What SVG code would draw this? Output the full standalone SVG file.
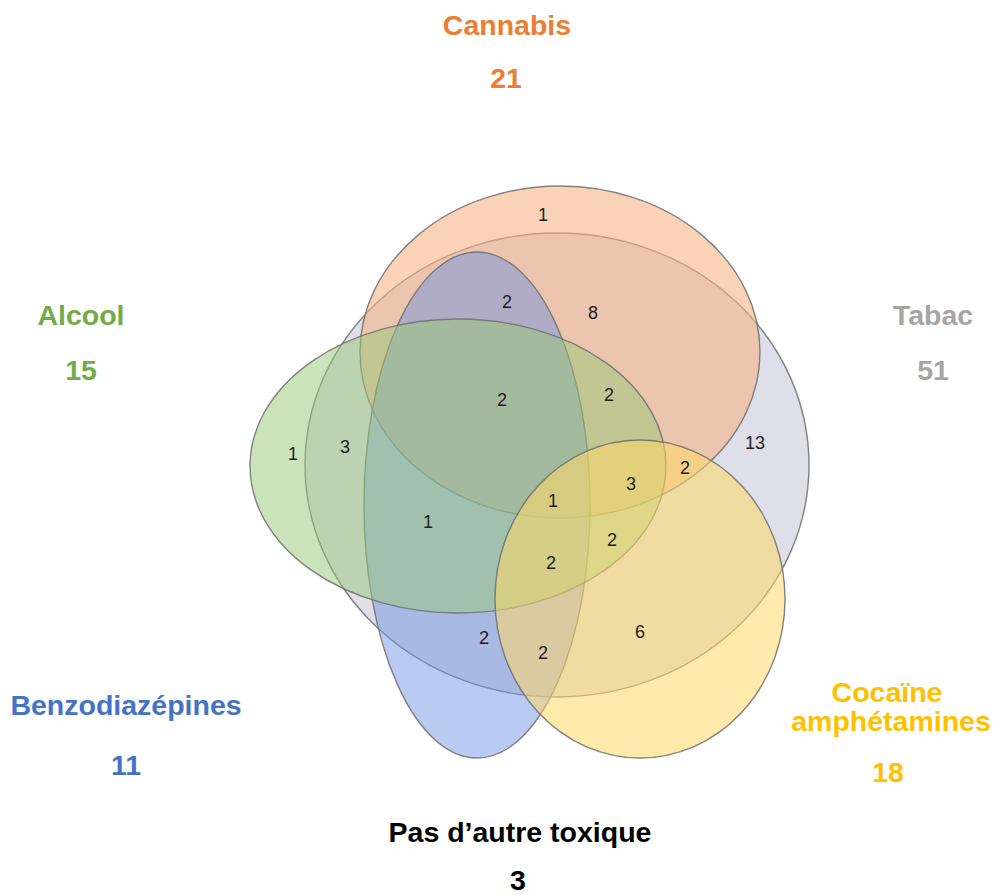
<svg xmlns="http://www.w3.org/2000/svg" width="995" height="895" viewBox="0 0 995 895">
  <style>
    .set { stroke: #6f6f6f; stroke-width: 1.4; stroke-opacity: 0.85; }
    .lbl { font-family: "Liberation Sans", Arial, sans-serif; font-weight: bold; font-size: 28.5px; text-anchor: middle; }
    .num { font-family: "Liberation Sans", Arial, sans-serif; font-size: 18px; text-anchor: middle; fill: #1e1e1e; }
  </style>
  <rect x="0" y="0" width="995" height="895" fill="#ffffff"/>

  <g id="tabac">
    <ellipse class="set" cx="557" cy="465" rx="252" ry="232" fill="#C8CAD8" fill-opacity="0.6"/>
    <text class="lbl" x="933" y="325" fill="#A5A5A5">Tabac</text>
    <text class="lbl" x="933" y="380" fill="#A5A5A5">51</text>
  </g>

  <g id="cannabis">
    <ellipse class="set" cx="560" cy="352" rx="200" ry="166" fill="#F4B183" fill-opacity="0.58"/>
    <text class="lbl" x="507" y="35" fill="#ED7D31">Cannabis</text>
    <text class="lbl" x="506" y="88" fill="#ED7D31">21</text>
  </g>

  <g id="benzodiazepines">
    <ellipse class="set" cx="477" cy="505" rx="113" ry="253" fill="#7090E0" fill-opacity="0.48"/>
    <text class="lbl" x="126" y="715" fill="#4472C4">Benzodiazépines</text>
    <text class="lbl" x="126" y="775" fill="#4472C4">11</text>
  </g>

  <g id="alcool">
    <ellipse class="set" cx="458" cy="466" rx="208" ry="147" fill="#98C878" fill-opacity="0.5"/>
    <text class="lbl" x="81" y="325" fill="#70AD47">Alcool</text>
    <text class="lbl" x="81" y="380" fill="#70AD47">15</text>
  </g>

  <g id="cocaine">
    <ellipse class="set" cx="640" cy="599" rx="145" ry="159" fill="#FFD966" fill-opacity="0.55"/>
    <text class="lbl" x="887" y="702" fill="#FFC000">Cocaïne</text>
    <text class="lbl" x="891" y="731" fill="#FFC000">amphétamines</text>
    <text class="lbl" x="888" y="782" fill="#FFC000">18</text>
  </g>

  <g id="aucun">
    <text class="lbl" x="520" y="842" fill="#000000">Pas d’autre toxique</text>
    <text class="lbl" x="518" y="890" fill="#000000">3</text>
  </g>

  <g id="connectors"/>

  <g id="counts">
    <text class="num" x="543" y="221">1</text>
    <text class="num" x="507" y="308">2</text>
    <text class="num" x="593" y="319">8</text>
    <text class="num" x="502" y="406">2</text>
    <text class="num" x="609" y="401">2</text>
    <text class="num" x="293" y="460">1</text>
    <text class="num" x="345" y="453">3</text>
    <text class="num" x="755" y="449">13</text>
    <text class="num" x="685" y="474">2</text>
    <text class="num" x="631" y="490">3</text>
    <text class="num" x="553" y="507">1</text>
    <text class="num" x="428" y="528">1</text>
    <text class="num" x="612" y="546">2</text>
    <text class="num" x="551" y="569">2</text>
    <text class="num" x="484" y="644">2</text>
    <text class="num" x="543" y="659">2</text>
    <text class="num" x="640" y="638">6</text>
  </g>
</svg>
